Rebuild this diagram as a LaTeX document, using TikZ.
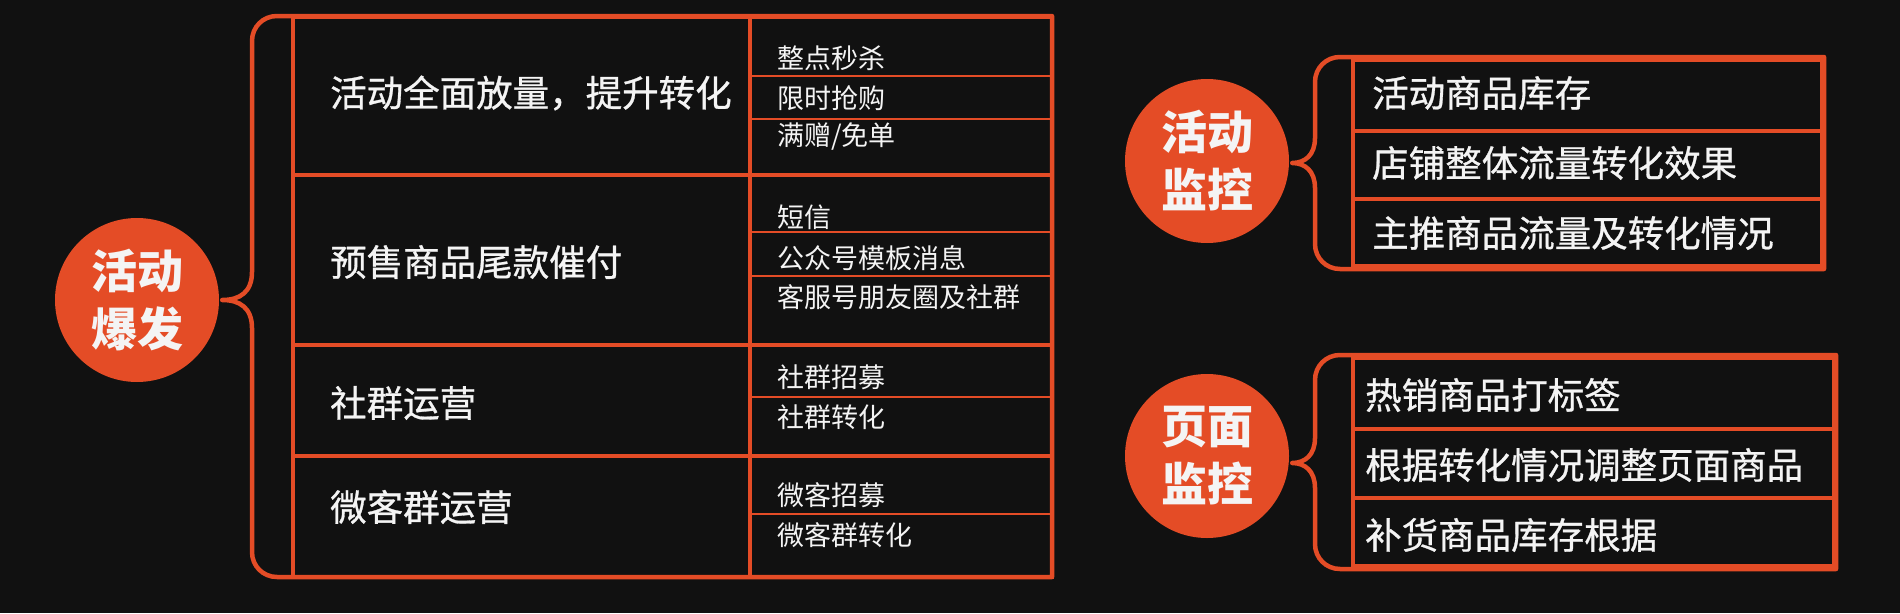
\documentclass[tikz,border=0pt]{standalone}
\usepackage{fontspec}
\setmainfont{Noto Sans CJK SC}
\newfontfamily\cjkmed[FakeBold=0.8]{Noto Sans CJK SC}
\definecolor{bg}{HTML}{111111}
\definecolor{org}{HTML}{E44C26}
\definecolor{txt}{HTML}{F4F4F4}
\begin{document}
\begin{tikzpicture}[x=1pt,y=-1pt,
  frame/.style={draw=org, line width=4.5pt, line join=round},
  maindiv/.style={draw=org, line width=4pt},
  subdiv/.style={draw=org, line width=2.5pt},
  maintext/.style={anchor=west, text=txt, font=\cjkmed\fontsize{36.5}{40}\selectfont, inner sep=0pt},
  subtext/.style={anchor=west, text=txt, font=\fontsize{27}{30}\selectfont, inner sep=0pt},
  circ/.style={circle, fill=org, minimum size=164pt, inner sep=0pt, text=txt, font=\fontsize{46}{58}\selectfont\bfseries, align=center},
]
\fill[bg] (0,0) rectangle (1900,613);
\useasboundingbox (0,0) rectangle (1900,613);

% ---------------- left group ----------------
\node[circ] (c1) at (137,300) {活动\\爆发};
\coordinate (t1) at ([xshift=3pt]c1.east);
\draw[frame] (1052,16) -- (277,16) .. controls (263,16) and (252,27) .. (252,41)
  -- (252,272) .. controls (252,292) and (240,300) .. (t1)
  .. controls (240,300) and (252,308) .. (252,328)
  -- (252,552) .. controls (252,566) and (263,577) .. (277,577) -- (1052,577) -- cycle;
\draw[maindiv] (293,17) rectangle (1052,577);
\draw[maindiv] (750,17) -- (750,577);
\foreach \y in {175,345,456} \draw[maindiv] (293,\y) -- (1052,\y);
\foreach \y in {76,119,232,276,397,514} \draw[subdiv] (750,\y) -- (1052,\y);

\node[maintext] (m1) at (330,93) {活动全面放量，提升转化};
\node[maintext] (m2) at (330,262) {预售商品尾款催付};
\node[maintext] (m3) at (330,403) {社群运营};
\node[maintext] (m4) at (330,507) {微客群运营};

\node[subtext] (s11) at (777,58) {整点秒杀};
\node[subtext] (s12) at (777,98) {限时抢购};
\node[subtext] (s13) at (777,137) {满赠/免单};
\node[subtext] (s21) at (777,217) {短信};
\node[subtext] (s22) at (777,258) {公众号模板消息};
\node[subtext] (s23) at (777,297) {客服号朋友圈及社群};
\node[subtext] (s31) at (777,377) {社群招募};
\node[subtext] (s32) at (777,417) {社群转化};
\node[subtext] (s41) at (777,495) {微客招募};
\node[subtext] (s42) at (777,535) {微客群转化};

% ---------------- right group 1 ----------------
\node[circ] (c2) at (1207,161) {活动\\监控};
\coordinate (t2) at ([xshift=3pt,yshift=-2pt]c2.east);
\draw[frame] (1824,57) -- (1340,57) .. controls (1326,57) and (1315,68) .. (1315,82)
  -- (1315,138) .. controls (1315,155) and (1305,163) .. (t2)
  .. controls (1305,163) and (1315,171) .. (1315,188)
  -- (1315,244) .. controls (1315,258) and (1326,269) .. (1340,269) -- (1824,269) -- cycle;
\draw[maindiv] (1353,60) rectangle (1822,266);
\foreach \y in {131,199} \draw[maindiv] (1353,\y) -- (1822,\y);
\node[maintext] (r11) at (1372,93) {活动商品库存};
\node[maintext] (r12) at (1372,163) {店铺整体流量转化效果};
\node[maintext] (r13) at (1372,233) {主推商品流量及转化情况};

% ---------------- right group 2 ----------------
\node[circ] (c3) at (1207,456) {页面\\监控};
\coordinate (t3) at ([xshift=3pt,yshift=-7pt]c3.east);
\draw[frame] (1836,355) -- (1340,355) .. controls (1326,355) and (1315,366) .. (1315,380)
  -- (1315,438) .. controls (1315,455) and (1305,463) .. (t3)
  .. controls (1305,463) and (1315,471) .. (1315,488)
  -- (1315,544) .. controls (1315,558) and (1326,569) .. (1340,569) -- (1836,569) -- cycle;
\draw[maindiv] (1353,358) rectangle (1834,566);
\foreach \y in {429,498} \draw[maindiv] (1353,\y) -- (1834,\y);
\node[maintext] (r21) at (1365,395) {热销商品打标签};
\node[maintext] (r22) at (1365,465) {根据转化情况调整页面商品};
\node[maintext] (r23) at (1365,535) {补货商品库存根据};
\end{tikzpicture}
\end{document}
